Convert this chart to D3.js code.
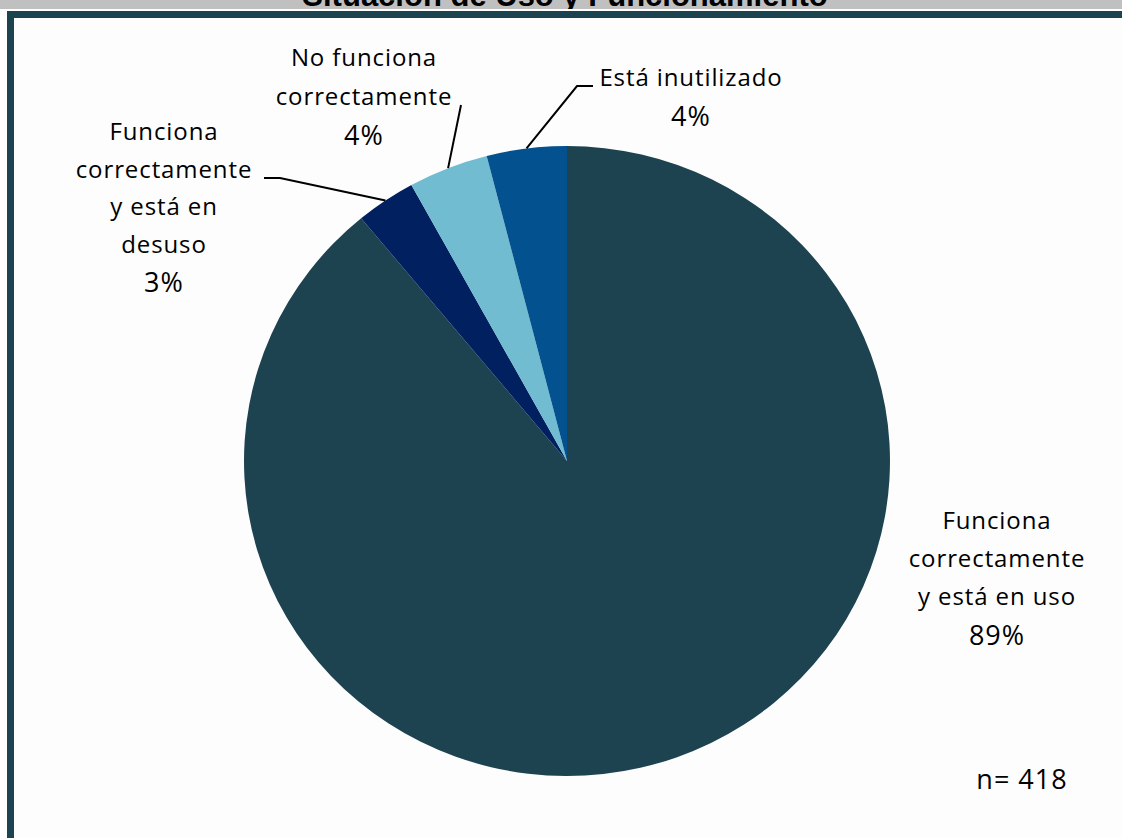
<!DOCTYPE html>
<html>
<head>
<meta charset="utf-8">
<script src="https://cdn.jsdelivr.net/npm/d3@7/dist/d3.min.js"></script>
<style>
  html, body { margin: 0; padding: 0; background: #ffffff; }
  svg { display: block; }
</style>
</head>
<body>
<svg id="chart" width="1122" height="838"></svg>
<script>
// Situación de uso y funcionamiento (n = 418)
const title = "Situación de Uso y Funcionamiento";
const categories = [
  "Funciona correctamente y está en uso",
  "Funciona correctamente y está en desuso",
  "No funciona correctamente",
  "Está inutilizado"
];
const values = [89, 3, 4, 4];
const labelLines = [
  ["Funciona", "correctamente", "y está en uso"],
  ["Funciona", "correctamente", "y está en", "desuso"],
  ["No funciona", "correctamente"],
  ["Está inutilizado"]
];
const sampleNote = "n= 418";
const colors = ["#1d4350", "#012060", "#71bcd0", "#03518f"];

const W = 1122, H = 838;
const svg = d3.select("#chart");

// Header band with the (clipped) title
svg.append("rect").attr("x", 0).attr("y", 0).attr("width", W).attr("height", 9).attr("fill", "#c0c0c0");
svg.append("text")
  .attr("x", 565).attr("y", 6)
  .attr("text-anchor", "middle")
  .attr("font-family", "Liberation Sans, Arial, sans-serif")
  .attr("font-weight", "bold")
  .attr("font-size", 31)
  .attr("fill", "#000")
  .text(title);
svg.append("rect").attr("x", 0).attr("y", 9).attr("width", W).attr("height", 2).attr("fill", "#ffffff");

// Chart panel with a thick frame
svg.append("rect")
  .attr("x", 10.5).attr("y", 14.5)
  .attr("width", W + 40).attr("height", H + 40)
  .attr("fill", "#fdfdfd")
  .attr("stroke", "#1c4450")
  .attr("stroke-width", 7);

// Pie geometry (slightly wider than tall)
const cx = 567, cy = 461, r = 315, sx = 323 / 315;
const pie = d3.pie().sort(null).value(d => d)(values);
const arc = d3.arc().innerRadius(0).outerRadius(r);

const g = svg.append("g").attr("transform", `translate(${cx},${cy}) scale(${sx},1)`);
g.selectAll("path.slice")
  .data(pie)
  .join("path")
  .attr("class", "slice")
  .attr("d", arc)
  .attr("fill", (d, i) => colors[i]);

// Point on the rim at the middle of a slice, in page coordinates
function rimPoint(d, k) {
  const a = (d.startAngle + d.endAngle) / 2;
  return [cx + Math.sin(a) * r * k * sx, cy - Math.cos(a) * r * k];
}

// Label layout: centre x, first baseline, line step, and leader elbow points
const layout = [
  { x: 997, y: 529, step: 38, leader: null },
  { x: 164, y: 140, step: 37.5, leader: [[264, 178], [280, 178]] },
  { x: 364, y: 66, step: 38.5, leader: [[461, 105]] },
  { x: 691, y: 86, step: 38, leader: [[593, 86], [577, 86]] }
];

const font = "Open Sans, Lato, sans-serif";
layout.forEach((L, i) => {
  const t = svg.append("text")
    .attr("text-anchor", "middle")
    .attr("font-family", font)
    .attr("fill", "#000");
  const lines = labelLines[i];
  lines.forEach((line, j) => {
    t.append("tspan")
      .attr("x", L.x)
      .attr("y", L.y + j * L.step)
      .attr("font-size", 24)
      .attr("letter-spacing", 0.9)
      .text(line);
  });
  // percentage line under the category name
  t.append("tspan")
    .attr("x", L.x)
    .attr("y", L.y + lines.length * L.step + 2)
    .attr("font-size", 27)
    .attr("letter-spacing", 1)
    .text(d3.format("d")(values[i]) + "%");
  if (L.leader) {
    const pts = L.leader.concat([rimPoint(pie[i], 1)]);
    svg.append("path")
      .attr("d", d3.line()(pts))
      .attr("fill", "none")
      .attr("stroke", "#000")
      .attr("stroke-width", 2);
  }
});

svg.append("text")
  .attr("x", 1022).attr("y", 789)
  .attr("text-anchor", "middle")
  .attr("font-family", font)
  .attr("font-size", 27)
  .attr("letter-spacing", 1)
  .attr("fill", "#000")
  .text(sampleNote);
</script>
</body>
</html>
